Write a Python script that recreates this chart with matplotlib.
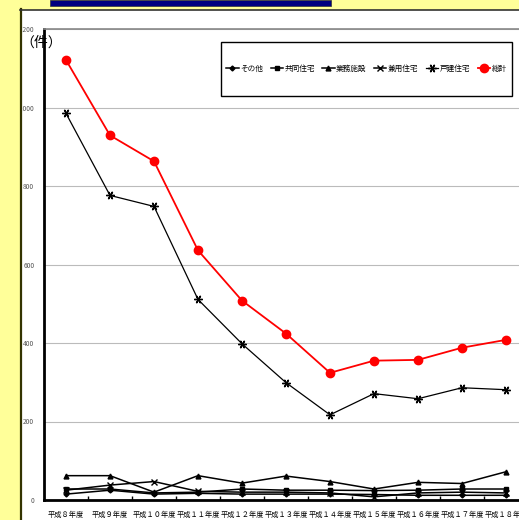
import matplotlib
matplotlib.use("Agg")
import matplotlib.pyplot as plt
from matplotlib.patches import Rectangle
from matplotlib.lines import Line2D

plt.rcParams['font.family'] = ['Noto Sans CJK JP', 'DejaVu Sans']

categories = ["平成８年度", "平成９年度", "平成１０年度", "平成１１年度", "平成１２年度",
              "平成１３年度", "平成１４年度", "平成１５年度", "平成１６年度", "平成１７年度", "平成１８年度"]
sonota = [15, 25, 15, 17, 15, 15, 15, 14, 12, 12, 12]
kyodo = [28, 28, 18, 20, 28, 25, 25, 24, 25, 28, 28]
gyomu = [62, 62, 20, 62, 43, 61, 47, 28, 45, 42, 72]
kenyo = [25, 38, 47, 22, 20, 20, 18, 8, 18, 20, 18]
kodate = [985, 776, 748, 511, 398, 299, 217, 271, 258, 286, 281]
total = [1121, 929, 863, 636, 508, 424, 324, 355, 357, 388, 408]
yticks = [0, 200, 400, 600, 800, 1000, 1200]

W, H = 519, 520
fig = plt.figure(figsize=(W / 100, H / 100), dpi=100)
fig.patch.set_facecolor('white')

# background decorations
fig.patches.append(Rectangle((0, 0), 20 / W, 1, transform=fig.transFigure, color='#FFFF99', zorder=0))
fig.patches.append(Rectangle((0, (H - 9) / H), 1, 9 / H, transform=fig.transFigure, color='#FFFF99', zorder=0))
fig.patches.append(Rectangle((50 / W, (H - 6) / H), 281 / W, 6 / H, transform=fig.transFigure,
                             facecolor='#000080', edgecolor='#333333', lw=0.5, zorder=1))
fig.lines.append(Line2D([20.5 / W, 20.5 / W], [0, (H - 9) / H], transform=fig.transFigure, color='#333300', lw=1.6))
fig.lines.append(Line2D([20 / W, 1], [(H - 9.5) / H, (H - 9.5) / H], transform=fig.transFigure, color='#333333', lw=1.2))

left, top, bottom = 44, 29, 500
ax = fig.add_axes([left / W, (H - bottom) / H, 484 / W, (bottom - top) / H])
ax.set_facecolor('white')
x = list(range(len(categories)))

lw = 1.1
ax.plot(x, sonota, color='black', lw=lw, marker='D', ms=2.5, label='その他', zorder=3)
ax.plot(x, kyodo, color='black', lw=lw, marker='s', ms=3, label='共同住宅', zorder=3)
ax.plot(x, gyomu, color='black', lw=lw, marker='^', ms=3.5, label='業務施設', zorder=3)
ax.plot(x, kenyo, color='black', lw=lw, marker='x', ms=4, mew=1, label='兼用住宅', zorder=3)
ax.plot(x, kodate, color='black', lw=0.9, marker=(6, 2, 90), ms=6, mew=1, label='戸建住宅', zorder=3)
ax.plot(x, total, color='red', lw=1.3, marker='o', ms=6, label='総計', zorder=4)

ax.set_xlim(-0.5, len(categories) - 0.5)
ax.set_ylim(0, 1200)
ax.set_yticks(yticks)
ax.set_yticklabels([f"{v:,}" for v in yticks], fontsize=4.8, color='#555555')
ax.tick_params(axis='y', length=0, pad=7)
ax.set_xticks(x)
ax.set_xticklabels(categories, fontsize=5.2)
ax.tick_params(axis='x', length=0, pad=8)
ax.set_xticks([i + 0.5 for i in range(len(categories) - 1)], minor=True)
ax.tick_params(axis='x', which='minor', direction='in', length=3, width=1)
ax.grid(axis='y', color='#BBBBBB', lw=0.8)
ax.set_axisbelow(True)
for s in ['left', 'bottom']:
    ax.spines[s].set_linewidth(2)
    ax.spines[s].set_color('black')
ax.spines['top'].set_color('#888888')
ax.spines['top'].set_linewidth(1.2)
ax.spines['right'].set_visible(False)

x0 = (221 - left) / 484
x1 = (512 - left) / 484
y1 = (bottom - 42) / (bottom - top)
y0 = (bottom - 96) / (bottom - top)
ax.add_patch(Rectangle((x0, y0), x1 - x0, y1 - y0, transform=ax.transAxes, facecolor='white',
                       edgecolor='black', lw=1, zorder=5))
leg = ax.legend(loc='center', bbox_to_anchor=(x0, y0, x1 - x0, y1 - y0), mode='expand', ncol=6,
                fontsize=5.5, frameon=False, handlelength=1.6, handletextpad=0.2,
                columnspacing=0.6, borderaxespad=0.3)
leg.set_zorder(6)

fig.text(20 / W, 1 - 43 / H, '（件）', fontsize=10, va='center', ha='left')

fig.savefig('out.png', dpi=100, facecolor=fig.get_facecolor())
